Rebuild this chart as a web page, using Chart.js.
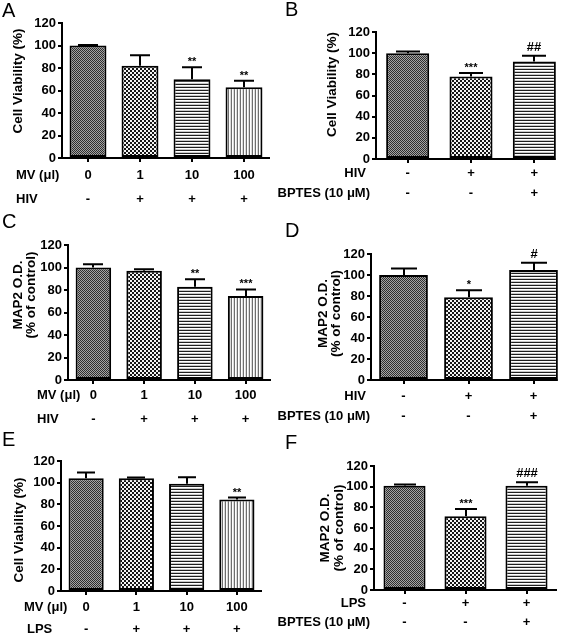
<!DOCTYPE html>
<html><head><meta charset="utf-8">
<script src="https://cdn.jsdelivr.net/npm/chart.js@4.4.1/dist/chart.umd.min.js"></script>
<style>
html,body{margin:0;padding:0;background:#fff;}
#wrap{position:relative;width:567px;height:635px;overflow:hidden;background:#fff;}
#wrap canvas{position:absolute;left:0;top:0;}
</style></head><body>
<div id="wrap">
<canvas id="cA" width="567" height="635"></canvas>
<canvas id="cB" width="567" height="635"></canvas>
<canvas id="cC" width="567" height="635"></canvas>
<canvas id="cD" width="567" height="635"></canvas>
<canvas id="cE" width="567" height="635"></canvas>
<canvas id="cF" width="567" height="635"></canvas>
</div>
<script>
// ---------------- DATA ----------------
const doseCategories = ["0", "1", "10", "100"];
const hivCategories = ["Control", "HIV", "HIV + BPTES"];
const lpsCategories = ["Control", "LPS", "LPS + BPTES"];
const yTickValues = [0, 20, 40, 60, 80, 100, 120];

// Panel A: cell viability, MV dose + HIV
const viabilityA = [100, 82, 70, 63];
const semA = [0.5, 9.3, 10.6, 5.7];
const sigA = ["", "", "**", "**"];
const mvRowA = ["0", "1", "10", "100"];
const hivRowA = ["-", "+", "+", "+"];

// Panel B: cell viability, HIV +/- BPTES
const viabilityB = [100, 78, 92.2];
const semB = [1.5, 3.3, 5.4];
const sigB = ["", "***", "##"];
const hivRowB = ["-", "+", "+"];
const bptesRowB = ["-", "-", "+"];

// Panel C: MAP2 O.D., MV dose + HIV
const map2C = [100, 97.2, 82.9, 74.6];
const semC = [2.8, 1.3, 6.6, 5.9];
const sigC = ["", "", "**", "***"];
const mvRowC = ["0", "1", "10", "100"];
const hivRowC = ["-", "+", "+", "+"];

// Panel D: MAP2 O.D., HIV +/- BPTES
const map2D = [100, 78.8, 104.8];
const semD = [6.3, 6.6, 6.9];
const sigD = ["", "*", "#"];
const hivRowD = ["-", "+", "+"];
const bptesRowD = ["-", "-", "+"];

// Panel E: cell viability, MV dose + LPS
const viabilityE = [104, 104, 99, 84.4];
const semE = [5.5, 0.8, 6.1, 1.8];
const sigE = ["", "", "", "**"];
const mvRowE = ["0", "1", "10", "100"];
const lpsRowE = ["-", "+", "+", "+"];

// Panel F: MAP2 O.D., LPS +/- BPTES
const map2F = [101, 71.4, 101];
const semF = [1.2, 7.1, 3.3];
const sigF = ["", "***", "###"];
const lpsRowF = ["-", "+", "+"];
const bptesRowF = ["-", "-", "+"];

// ---------------- STYLE / LAYOUT ----------------
const FONT = "'Liberation Sans', Arial, Helvetica, sans-serif";
Chart.defaults.font.family = FONT;
Chart.defaults.color = '#000';

function makeTile(ctx, w, h, fn) {
  const c = document.createElement('canvas');
  c.width = w; c.height = h;
  const g = c.getContext('2d');
  for (let y = 0; y < h; y++) for (let x = 0; x < w; x++) {
    g.fillStyle = fn(x, y); g.fillRect(x, y, 1, 1);
  }
  return ctx.createPattern(c, 'repeat');
}
function makePatterns(ctx) {
  return {
    fine: makeTile(ctx, 2, 2, (x, y) => ((x + y) % 2 === 0 ? '#2e2e2e' : '#a4a4a4')),
    checker: makeTile(ctx, 4, 4, (x, y) => ((((x >> 1) + (y >> 1)) % 2) === 0 ? '#161616' : '#f4f4f4')),
    hlines: makeTile(ctx, 1, 3, (x, y) => (y === 0 ? '#1e1e1e' : (y === 1 ? '#fff' : '#c8c8c8'))),
    vlines: makeTile(ctx, 3, 1, (x, y) => (x === 0 ? '#6e6e6e' : (x === 1 ? '#fff' : '#dadada')))
  };
}

const TITLE_CV = "Cell Viability (%)";
const TITLE_M1 = "MAP2 O.D.";
const TITLE_M2 = "(% of control)";
const MV_HEAD = "MV (\u03bcl)";
const BPTES_HEAD = "BPTES (10 \u03bcM)";

const panels = [
  { id: 'cA', letter: 'A', lx: 2, ly: 17, categories: doseCategories, values: viabilityA, sem: semA, sig: sigA,
    area: { left: 62, top: 23, right: 270, bottom: 158 }, barPct: 0.71, axisToBar: false,
    fills: ['fine', 'checker', 'hlines', 'vlines'],
    title: [{ text: TITLE_CV, x: 18.5, y: 81 }],
    rows: [{ header: MV_HEAD, x: 16, align: 'left', y: 175, labels: mvRowA },
           { header: 'HIV', x: 16, align: 'left', y: 199, labels: hivRowA }] },
  { id: 'cB', letter: 'B', lx: 285, ly: 16, categories: hivCategories, values: viabilityB, sem: semB, sig: sigB,
    area: { left: 376, top: 32, right: 566, bottom: 159 }, barPct: 0.68, axisToBar: true,
    fills: ['fine', 'checker', 'hlines'],
    title: [{ text: TITLE_CV, x: 332, y: 84.5 }],
    rows: [{ header: 'HIV', x: 366, align: 'right', y: 173.5, labels: hivRowB },
           { header: BPTES_HEAD, x: 370, align: 'right', y: 193, labels: bptesRowB }] },
  { id: 'cC', letter: 'C', lx: 2, ly: 228, categories: doseCategories, values: map2C, sem: semC, sig: sigC,
    area: { left: 68, top: 245, right: 271, bottom: 380 }, barPct: 0.70, axisToBar: false,
    fills: ['fine', 'checker', 'hlines', 'vlines'],
    title: [{ text: TITLE_M1, x: 18, y: 295 }, { text: TITLE_M2, x: 31.5, y: 295 }],
    rows: [{ header: MV_HEAD, x: 37, align: 'left', y: 395.5, labels: mvRowC },
           { header: 'HIV', x: 37, align: 'left', y: 419.5, labels: hivRowC }] },
  { id: 'cD', letter: 'D', lx: 285, ly: 237, categories: hivCategories, values: map2D, sem: semD, sig: sigD,
    area: { left: 371, top: 254, right: 566, bottom: 380 }, barPct: 0.75, axisToBar: true,
    fills: ['fine', 'checker', 'hlines'],
    title: [{ text: TITLE_M1, x: 323.5, y: 313.5 }, { text: TITLE_M2, x: 336.5, y: 313.5 }],
    rows: [{ header: 'HIV', x: 366, align: 'right', y: 396.7, labels: hivRowD },
           { header: BPTES_HEAD, x: 370, align: 'right', y: 416, labels: bptesRowD }] },
  { id: 'cE', letter: 'E', lx: 2, ly: 446, categories: doseCategories, values: viabilityE, sem: semE, sig: sigE,
    area: { left: 61, top: 461, right: 262, bottom: 591 }, barPct: 0.70, axisToBar: false,
    fills: ['fine', 'checker', 'hlines', 'vlines'],
    title: [{ text: TITLE_CV, x: 19, y: 530 }],
    rows: [{ header: MV_HEAD, x: 24, align: 'left', y: 607.5, labels: mvRowE },
           { header: 'LPS', x: 27, align: 'left', y: 629, labels: lpsRowE }] },
  { id: 'cF', letter: 'F', lx: 285, ly: 449, categories: lpsCategories, values: map2F, sem: semF, sig: sigF,
    area: { left: 374, top: 466, right: 557, bottom: 590 }, barPct: 0.69, axisToBar: false,
    fills: ['fine', 'checker', 'hlines'],
    title: [{ text: TITLE_M1, x: 325, y: 528 }, { text: TITLE_M2, x: 339.5, y: 528 }],
    rows: [{ header: 'LPS', x: 366, align: 'right', y: 603, labels: lpsRowF },
           { header: BPTES_HEAD, x: 370, align: 'right', y: 622.5, labels: bptesRowF }] }
];

const Y_W = 40, X_H = 20, W = 567, H = 635;

function buildPanel(p) {
  const canvas = document.getElementById(p.id);
  const ctx = canvas.getContext('2d');
  const pats = makePatterns(ctx);
  const extras = {
    id: 'extras',
    afterDatasetsDraw(chart) {
      const c = chart.ctx, xs = chart.scales.x, ys = chart.scales.y, ca = chart.chartArea;
      const bars = chart.getDatasetMeta(0).data;
      c.save();
      c.strokeStyle = '#000'; c.fillStyle = '#000'; c.lineWidth = 2;
      bars.forEach((b, i) => {
        const v = p.values[i];
        const yTop = ys.getPixelForValue(v);
        const yErr = ys.getPixelForValue(v + p.sem[i]);
        const half = Math.round(b.width * 0.27);
        const bx = Math.round(b.x);
        c.beginPath();
        c.moveTo(bx, yTop); c.lineTo(bx, yErr);
        c.moveTo(bx - half, yErr); c.lineTo(bx + half, yErr);
        c.stroke();
        const s = p.sig[i];
        if (s) {
          const isHash = s.charAt(0) === '#';
          c.font = 'bold ' + (isHash ? 13 : 11) + 'px ' + FONT;
          c.textAlign = 'center'; c.textBaseline = 'alphabetic';
          c.fillText(s, bx, yErr - (isHash ? 5 : 2));
        }
      });
      // x axis line
      const last = bars[bars.length - 1];
      const xEnd = p.axisToBar ? last.x + last.width / 2 : ca.right;
      c.beginPath(); c.moveTo(ca.left - 1, ca.bottom); c.lineTo(xEnd, ca.bottom); c.stroke();
      // label rows under the axis
      c.font = 'bold 13px ' + FONT; c.textBaseline = 'middle';
      p.rows.forEach(r => {
        c.textAlign = r.align; c.fillText(r.header, r.x, r.y);
        c.textAlign = 'center';
        r.labels.forEach((t, i) => c.fillText(t, xs.getPixelForValue(i), r.y));
      });
      // y axis title
      c.font = 'bold 13.5px ' + FONT;
      p.title.forEach(t => {
        c.save(); c.translate(t.x, t.y); c.rotate(-Math.PI / 2);
        c.textAlign = 'center'; c.textBaseline = 'middle';
        c.fillText(t.text, 0, 0); c.restore();
      });
      // panel letter
      c.font = '20px ' + FONT; c.textAlign = 'left'; c.textBaseline = 'alphabetic';
      c.fillText(p.letter, p.lx, p.ly);
      c.restore();
    }
  };
  new Chart(ctx, {
    type: 'bar',
    data: {
      labels: p.categories,
      datasets: [{
        data: p.values,
        backgroundColor: p.fills.map(k => pats[k]),
        borderColor: '#000', borderWidth: 2, borderSkipped: false,
        barPercentage: p.barPct, categoryPercentage: 1
      }]
    },
    options: {
      responsive: false, animation: false, devicePixelRatio: 1,
      layout: { padding: { left: p.area.left - Y_W, top: p.area.top, right: W - p.area.right, bottom: H - p.area.bottom - X_H } },
      plugins: { legend: { display: false }, tooltip: { enabled: false } },
      scales: {
        x: {
          offset: true,
          grid: { display: true, drawOnChartArea: false, drawTicks: true, tickLength: 4, lineWidth: 2, color: '#000', offset: false },
          border: { display: false },
          ticks: { display: false },
          afterFit: s => { s.height = X_H; }
        },
        y: {
          min: 0, max: 120,
          afterBuildTicks: s => { s.ticks = yTickValues.map(v => ({ value: v })); },
          grid: { drawOnChartArea: false, drawTicks: true, tickLength: 4, lineWidth: 2, color: '#000' },
          border: { display: true, width: 2, color: '#000' },
          ticks: { font: { size: 13, weight: 'bold' }, color: '#000', padding: 2 },
          afterFit: s => { s.width = Y_W; }
        }
      }
    },
    plugins: [extras]
  });
}
panels.forEach(buildPanel);
</script>
</body></html>
